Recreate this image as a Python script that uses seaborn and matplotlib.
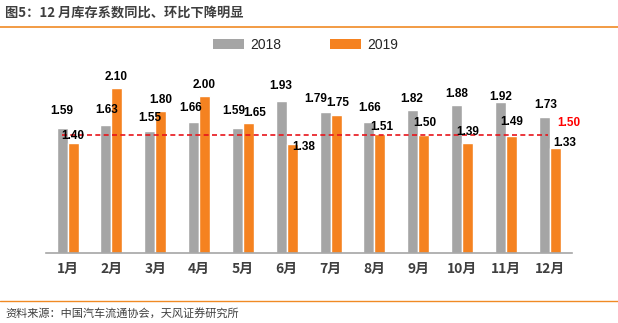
import matplotlib
matplotlib.use("Agg")
import matplotlib.pyplot as plt
import seaborn as sns
import pandas as pd
from matplotlib.patches import Patch
from matplotlib.lines import Line2D

# ---- data ----
months = ["1月", "2月", "3月", "4月", "5月", "6月", "7月", "8月", "9月", "10月", "11月", "12月"]
series_names = ["2018", "2019"]
values_2018 = [1.59, 1.63, 1.55, 1.66, 1.59, 1.93, 1.79, 1.66, 1.82, 1.88, 1.92, 1.73]
values_2019 = [1.40, 2.10, 1.80, 2.00, 1.65, 1.38, 1.75, 1.51, 1.50, 1.39, 1.49, 1.33]
ref_value = 1.50
title = "图5：12 月库存系数同比、环比下降明显"
source = "资料来源：中国汽车流通协会，天风证券研究所"

# ---- label layout (pixel offsets from bar top) ----
dx_2018 = [0, 1, 0, -3, -4, -1, -9, 1, -1, 0, 0, 1]
dy_2018 = [17, 15, 13, 14, 17, 15, 13, 14, 11, 11, 5, 12]
dx_2019 = [0, -1, 0, 0, 6, 11, 2, 2, 1, 0, 0, 9]
dy_2019 = [7, 11, 11, 11, 10, -3, 12, 7, 12, 11, 14, 5]

GRAY = "#A5A5A5"
ORANGE = "#F58220"
TXT = "#3F3F3F"
CJK = ["Noto Sans CJK SC", "DejaVu Sans"]
NUM = ["Liberation Sans", "DejaVu Sans"]

sns.set_style("white")
plt.rcParams["font.family"] = CJK

df = pd.DataFrame({
    "month": months * 2,
    "year": [series_names[0]] * len(months) + [series_names[1]] * len(months),
    "value": values_2018 + values_2019,
})

W, H = 618, 323
fig = plt.figure(figsize=(W / 100, H / 100), dpi=100)
ax = fig.add_axes([45.7 / W, (H - 252.7) / H, (571.7 - 45.7) / W, 188.6 / H])

sns.barplot(data=df, x="month", y="value", hue="year", order=months,
            hue_order=series_names, palette=[GRAY, ORANGE], width=0.5,
            ax=ax, legend=False, saturation=1)
ax.set_xlim(-0.5, 11.5)
ax.set_ylim(0, 2.4)
ax.set_xlabel("")
ax.set_ylabel("")
ax.set_yticks([])
for s in ["left", "right", "top"]:
    ax.spines[s].set_visible(False)
ax.spines["bottom"].set_color("#A6A6A6")
ax.spines["bottom"].set_linewidth(1.2)
ax.tick_params(axis="x", which="major", length=0, pad=7, labelsize=10,
               labelcolor=TXT)
for lab in ax.get_xticklabels():
    lab.set_fontweight("bold")
ax.set_xticks([i - 0.5 for i in range(len(months) + 1)], minor=True)
ax.tick_params(axis="x", which="minor", length=4.5, width=1.1, color="#A6A6A6",
               direction="out")

# data labels
for cont, vals, dxs, dys in [(ax.containers[0], values_2018, dx_2018, dy_2018),
                             (ax.containers[1], values_2019, dx_2019, dy_2019)]:
    for bar, v, dx, dy in zip(cont, vals, dxs, dys):
        cx = bar.get_x() + bar.get_width() / 2
        ax.annotate(f"{v:.2f}", (cx, bar.get_height()), xytext=(dx, dy),
                    textcoords="offset pixels", ha="center", va="center",
                    fontsize=8.5, fontweight="bold", color="black", family=NUM)

# reference line
x0, x1 = -0.135, 10.96
sns.lineplot(x=[x0, x1], y=[ref_value, ref_value], ax=ax, color="#E8141B",
             linestyle=(0, (3, 2)), linewidth=1.2)
ax.annotate(f"{ref_value:.2f}", (x1, ref_value), xytext=(21, 12),
            textcoords="offset pixels", ha="center", va="center",
            fontsize=8.5, fontweight="bold", color="#FF0000", family=NUM)

# legend
handles = [Patch(facecolor=GRAY, edgecolor="none"), Patch(facecolor=ORANGE, edgecolor="none")]
fig.legend(handles, series_names, loc="center", bbox_to_anchor=(305.4 / W, 1 - 45 / H),
           ncol=2, frameon=False, handlelength=2.25, handleheight=0.72,
           handletextpad=0.45, columnspacing=3.5, prop={"family": NUM, "size": 10})

# title, rules, source
fig.text(5 / W, 1 - 13 / H, title, ha="left", va="center", fontsize=9.5,
         fontweight="bold", color=TXT, family=CJK)
fig.add_artist(Line2D([0, 1], [1 - 26.5 / H, 1 - 26.5 / H], color="#F08A24", linewidth=1.2,
                      transform=fig.transFigure))
fig.add_artist(Line2D([0, 1], [1 - 301 / H, 1 - 301 / H], color="#F08A24", linewidth=1.0,
                      transform=fig.transFigure))
fig.text(5 / W, 1 - 313 / H, source, ha="left", va="center", fontsize=8,
         color=TXT, family=CJK)

fig.savefig("out.png", dpi=100)
